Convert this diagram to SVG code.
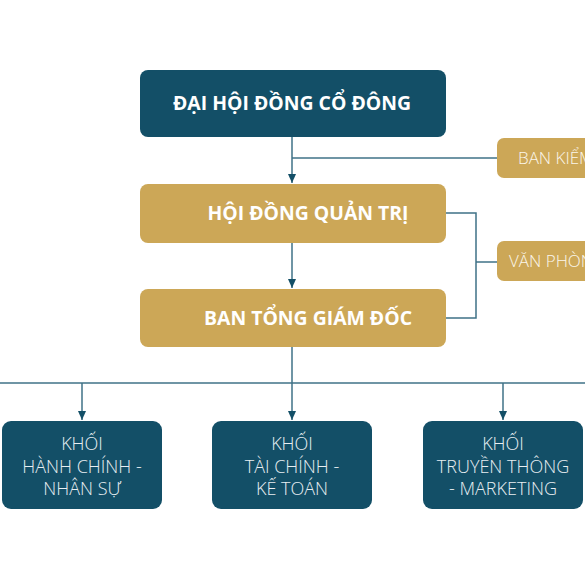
<svg xmlns="http://www.w3.org/2000/svg" width="585" height="585" viewBox="0 0 585 585">
<style>
.dark{fill:#134f67}
.gold{fill:#cca757}
.t1{font-family:"Open Sans","Noto Sans",sans-serif;font-weight:700;font-size:19.4px;fill:#ffffff;text-anchor:middle}
.t2{font-family:"Open Sans","Noto Sans",sans-serif;font-weight:300;font-size:17px;fill:#fbf6ea;text-anchor:start}
.t3{font-family:"Open Sans","Noto Sans",sans-serif;font-weight:300;font-size:18px;fill:#e8eef2;text-anchor:middle}
.ln{fill:none;stroke:#3f7287;stroke-width:1.5}
</style>
<defs>
<marker id="ah" markerWidth="10" markerHeight="8" refX="9" refY="4" orient="auto" markerUnits="userSpaceOnUse">
<path d="M0,0 L9,4 L0,8 Z" fill="#134f67"/>
</marker>
</defs>
<rect width="585" height="585" fill="#ffffff"/>
<g id="connectors">
<path class="ln" d="M292,137 V183" marker-end="url(#ah)"/>
<path class="ln" d="M292,158 H498"/>
<path class="ln" d="M292,243 V288" marker-end="url(#ah)"/>
<path class="ln" d="M446,213 H476 V318 H446"/>
<path class="ln" d="M476,262 H498"/>
<path class="ln" d="M292,347 V383"/>
<path class="ln" d="M0,383 H585"/>
<path class="ln" d="M82,383 V420" marker-end="url(#ah)"/>
<path class="ln" d="M292,383 V420" marker-end="url(#ah)"/>
<path class="ln" d="M503,383 V420" marker-end="url(#ah)"/>
</g>
<g id="dhdcd">
<rect class="dark" x="140" y="70" width="306" height="67" rx="8"/>
<text class="t1" x="292" y="110">ĐẠI HỘI ĐỒNG CỔ ĐÔNG</text>
</g>
<g id="bks">
<rect class="gold" x="497" y="138" width="110" height="40" rx="7"/>
<text class="t2" x="518" y="164">BAN KIỂM SOÁT</text>
</g>
<g id="hdqt">
<rect class="gold" x="140" y="184" width="306" height="59" rx="8"/>
<text class="t1" x="308" y="220">HỘI ĐỒNG QUẢN TRỊ</text>
</g>
<g id="vp">
<rect class="gold" x="497" y="241" width="110" height="40" rx="7"/>
<text class="t2" x="509" y="267">VĂN PHÒNG HĐQT</text>
</g>
<g id="btgd">
<rect class="gold" x="140" y="289" width="306" height="58" rx="8"/>
<text class="t1" x="308" y="325">BAN TỔNG GIÁM ĐỐC</text>
</g>
<g id="khoi1">
<rect class="dark" x="2" y="421" width="160" height="88" rx="9"/>
<text class="t3" x="82" y="450">KHỐI</text>
<text class="t3" x="82" y="473">HÀNH CHÍNH -</text>
<text class="t3" x="82" y="495">NHÂN SỰ</text>
</g>
<g id="khoi2">
<rect class="dark" x="212" y="421" width="160" height="88" rx="9"/>
<text class="t3" x="292" y="450">KHỐI</text>
<text class="t3" x="292" y="473">TÀI CHÍNH -</text>
<text class="t3" x="292" y="495">KẾ TOÁN</text>
</g>
<g id="khoi3">
<rect class="dark" x="423" y="421" width="160" height="88" rx="9"/>
<text class="t3" x="503" y="450">KHỐI</text>
<text class="t3" x="503" y="473">TRUYỀN THÔNG</text>
<text class="t3" x="503" y="495">- MARKETING</text>
</g>
</svg>
